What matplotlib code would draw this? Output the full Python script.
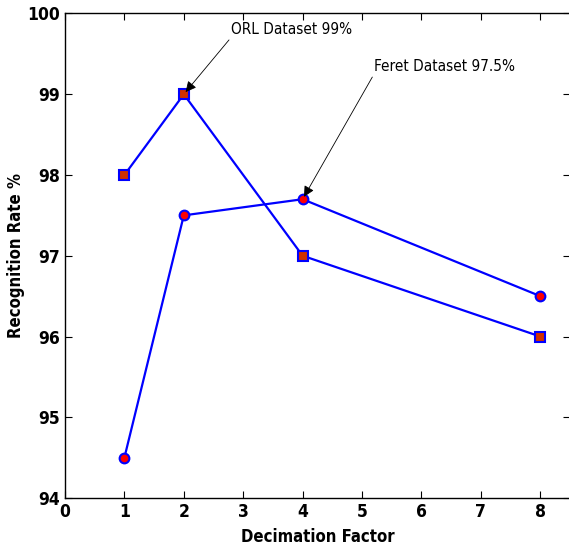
import matplotlib.pyplot as plt

decimation = [1, 2, 4, 8]
orl_rate = [98.0, 99.0, 97.0, 96.0]
feret_rate = [94.5, 97.5, 97.7, 96.5]

plt.rcParams['font.family'] = ['DejaVu Sans']
plt.rcParams['font.stretch'] = 'condensed'

fig = plt.figure(figsize=(5.69, 5.48), dpi=100)
ax = fig.add_axes([0.1142, 0.0912, 0.8875, 0.8842])

ax.plot(decimation, orl_rate, color='#0000ff', lw=1.6, marker='s', ms=7,
        mfc='#d03000', mec='#0000ff', mew=1.5)
ax.plot(decimation, feret_rate, color='#0000ff', lw=1.6, marker='o', ms=7,
        mfc='#ff0000', mec='#0000ff', mew=1.5)

ax.set_xlim(0, 8.5)
ax.set_ylim(94, 100)
ax.set_xticks(range(0, 9))
ax.set_yticks(range(94, 101))
ax.tick_params(direction='in', top=True, right=True, length=5, width=0.8,
               labelsize=12.5)
for lab in ax.get_xticklabels() + ax.get_yticklabels():
    lab.set_fontweight('bold')
for s in ax.spines.values():
    s.set_linewidth(1.0)

ax.set_xlabel('Decimation Factor', fontsize=12, fontweight='bold', labelpad=5)
ax.set_ylabel('Recognition Rate %', fontsize=12, fontweight='bold', labelpad=2)

arrow = dict(arrowstyle='-|>', color='black', lw=0.6, mutation_scale=16,
             shrinkA=0, shrinkB=2, relpos=(0.0, 0.0))
ax.annotate('ORL Dataset 99%', xy=(2, 99), xytext=(2.8, 99.8),
            fontsize=11, ha='left', va='center', arrowprops=arrow)
ax.annotate('Feret Dataset 97.5%', xy=(4, 97.7), xytext=(5.2, 99.34),
            fontsize=11, ha='left', va='center', arrowprops=arrow)

fig.savefig('out.png', dpi=100)
